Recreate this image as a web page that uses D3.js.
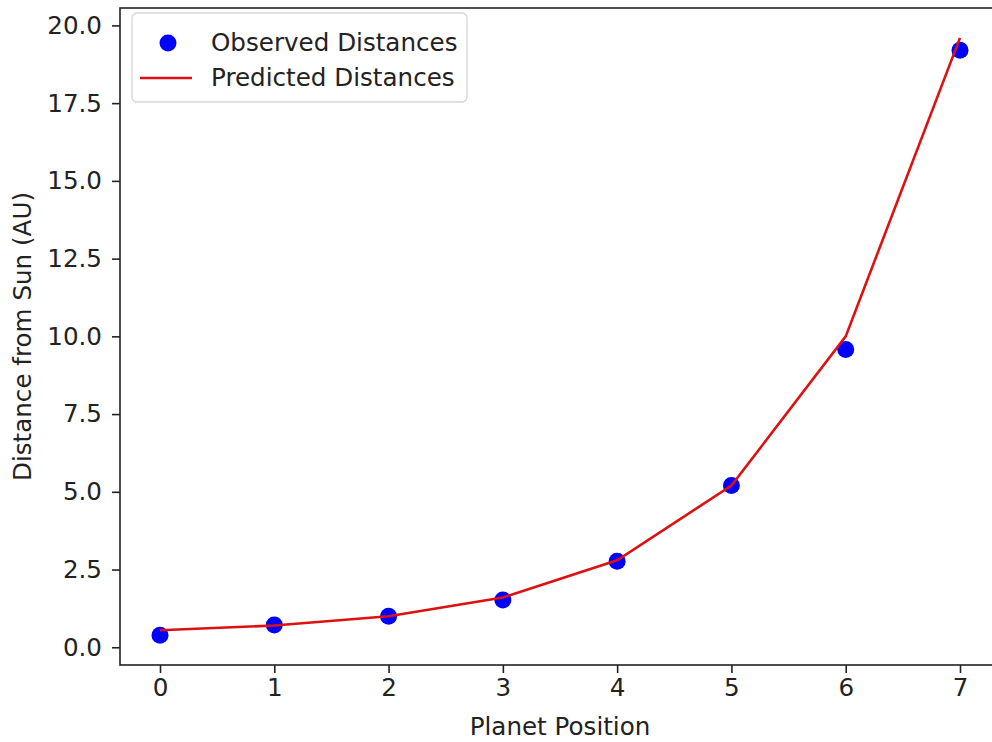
<!DOCTYPE html>
<html>
<head>
<meta charset="utf-8">
<script src="https://cdn.jsdelivr.net/npm/d3@7"></script>
<style>
  body { margin: 0; background: #fff; }
  svg { font-family: "DejaVu Sans", sans-serif; }
</style>
</head>
<body>
<svg width="992" height="742"></svg>
<script>
const positions = [0, 1, 2, 3, 4, 5, 6, 7];
const observed = [0.39, 0.72, 1.0, 1.52, 2.77, 5.2, 9.58, 19.2];
const predicted = [0.55, 0.7, 1.0, 1.6, 2.8, 5.2, 10.0, 19.6];
const yTicks = [0, 2.5, 5, 7.5, 10, 12.5, 15, 17.5, 20];

const svg = d3.select('svg');
const margin = { top: 8, right: -8, bottom: 77, left: 120 };
const width = 992 - margin.left - margin.right;
const height = 742 - margin.top - margin.bottom;
const fs = '24.6px';

const x = d3.scaleLinear().domain([-0.35, 7.35]).range([0, width]);
const y = d3.scaleLinear().domain([-0.57, 20.56]).range([height, 0]);

const g = svg.append('g').attr('transform', `translate(${margin.left},${margin.top})`);

// scatter first, line drawn on top
g.selectAll('.obs')
  .data(positions)
  .enter()
  .append('circle')
  .attr('class', 'obs')
  .attr('cx', d => x(d))
  .attr('cy', (d, i) => y(observed[i]))
  .attr('r', 8.5)
  .attr('fill', '#0000ff');

const line = d3.line()
  .x(d => x(d))
  .y((d, i) => y(predicted[i]));

g.append('path')
  .datum(positions)
  .attr('d', line)
  .attr('fill', 'none')
  .attr('stroke', '#dd1111')
  .attr('stroke-width', 2.6);

// axes
const xAxis = g.append('g')
  .attr('transform', `translate(0,${height})`)
  .call(d3.axisBottom(x).tickValues(positions).tickFormat(d3.format('d')).tickSize(8).tickPadding(6));
const yAxis = g.append('g')
  .call(d3.axisLeft(y).tickValues(yTicks).tickFormat(d3.format('.1f')).tickSize(8).tickPadding(10));

[xAxis, yAxis].forEach(a => {
  a.attr('font-size', null).attr('font-family', null);
  a.selectAll('text').style('font-size', fs).attr('fill', '#222');
  a.selectAll('line').attr('stroke', '#222').attr('stroke-width', 1.6);
  a.select('.domain').remove();
});

// frame
g.append('rect')
  .attr('x', 0).attr('y', 0)
  .attr('width', width).attr('height', height)
  .attr('fill', 'none')
  .attr('stroke', '#222')
  .attr('stroke-width', 1.6);

// labels
svg.append('text')
  .attr('x', margin.left + x(3.5))
  .attr('y', 735)
  .attr('text-anchor', 'middle')
  .style('font-size', fs)
  .attr('fill', '#222')
  .text('Planet Position');

svg.append('text')
  .attr('transform', `translate(31,${margin.top + height / 2}) rotate(-90)`)
  .attr('text-anchor', 'middle')
  .style('font-size', fs)
  .attr('fill', '#222')
  .text('Distance from Sun (AU)');

// legend
const leg = svg.append('g').attr('transform', 'translate(132,13)');
leg.append('rect')
  .attr('width', 335).attr('height', 89)
  .attr('rx', 5)
  .attr('fill', '#fff')
  .attr('fill-opacity', 0.8)
  .attr('stroke', '#d6d6d6')
  .attr('stroke-width', 1.3);
leg.append('circle').attr('cx', 36).attr('cy', 30).attr('r', 8.5).attr('fill', '#0000ff');
leg.append('line').attr('x1', 8).attr('x2', 60).attr('y1', 65).attr('y2', 65)
  .attr('stroke', '#dd1111').attr('stroke-width', 2.6);
leg.append('text').attr('x', 79).attr('y', 38).style('font-size', fs).attr('fill', '#222').text('Observed Distances');
leg.append('text').attr('x', 79).attr('y', 73).style('font-size', fs).attr('fill', '#222').text('Predicted Distances');
</script>
</body>
</html>
